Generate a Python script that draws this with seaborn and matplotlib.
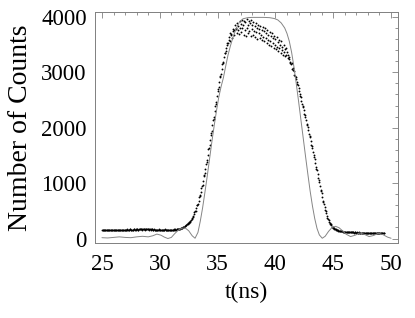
import numpy as np
import pandas as pd
import seaborn as sns
import matplotlib.pyplot as plt
from matplotlib.ticker import MultipleLocator

# measured counts, two overlapping traces sampled every 0.1 ns
t0_a = 25.0
counts_a = [
    148, 155, 150, 146, 153, 158, 150, 147, 152, 156, 149, 151, 157, 150, 145, 153, 159, 152, 148, 155,
    158, 152, 160, 155, 163, 157, 150, 162, 166, 158, 165, 160, 170, 163, 168, 175, 166, 172, 164, 170,
    168, 160, 172, 165, 158, 163, 155, 160, 152, 157, 162, 150, 155, 158, 152, 160, 155, 150, 157, 162,
    158, 152, 160, 165, 158, 170, 168, 175, 182, 190,
    200, 212, 228, 248, 262, 285, 305, 338, 372, 408,
    470, 500, 600, 625, 745, 780, 915, 970, 1120, 1180,
    1350, 1420, 1610, 1680, 1870, 1940, 2130, 2200, 2400, 2470,
    2660, 2730, 2910, 2970, 3140, 3190, 3350, 3380, 3520, 3530,
    3640, 3700, 3690, 3780, 3760, 3850, 3800, 3890, 3840, 3920,
    3870, 3950, 3860, 3930, 3900, 3960, 3850, 3920, 3880, 3940,
    3860, 3910, 3830, 3880, 3800, 3860, 3780, 3840, 3760, 3820,
    3740, 3800, 3700, 3760, 3680, 3730, 3650, 3700, 3620, 3660,
    3600, 3640, 3550, 3590, 3500, 3560, 3460, 3500, 3420, 3440,
    3370, 3320, 3280, 3190, 3160, 3070, 3030, 2930, 2880, 2780,
    2720, 2600, 2550, 2420, 2370, 2240, 2200, 2060, 2010, 1880,
    1830, 1690, 1640, 1500, 1440, 1290, 1230, 1090, 1020, 880,
    820, 680, 630, 510, 465, 370, 340, 275, 255, 215,
    195, 178, 165, 152, 145, 140, 135, 130, 128, 125,
    122, 120, 118, 115, 114, 112, 110, 112, 108, 110,
    108, 106, 110, 104, 106, 102, 105, 100, 103, 101,
    100, 98, 102, 97, 100, 96, 99, 95, 98, 94,
    96, 93, 95, 92, 94,
]

t0_b = 25.05
counts_b = [
    152, 146, 157, 151, 149, 160, 154, 145, 150, 158, 153, 147, 152, 160, 149, 155, 150, 146, 156, 151,
    155, 163, 150, 158, 165, 154, 160, 168, 157, 163, 172, 158, 166, 175, 160, 168, 171, 162, 176, 165,
    163, 170, 158, 166, 160, 154, 162, 149, 158, 163, 155, 160, 148, 156, 163, 151, 158, 153, 160, 155,
    162, 156, 168, 160, 172, 165, 178, 172, 186, 195,
    205, 220, 238, 255, 275, 295, 322, 355, 390, 435,
    490, 550, 610, 680, 760, 840, 940, 1040, 1150, 1260,
    1380, 1510, 1640, 1780, 1900, 2040, 2160, 2300, 2430, 2570,
    2690, 2820, 2930, 3060, 3160, 3270, 3350, 3440, 3500, 3580,
    3560, 3680, 3620, 3740, 3680, 3780, 3700, 3760, 3690, 3800,
    3720, 3790, 3680, 3760, 3650, 3800, 3700, 3740, 3660, 3780,
    3680, 3750, 3640, 3720, 3600, 3700, 3620, 3680, 3580, 3640,
    3560, 3620, 3530, 3590, 3500, 3560, 3470, 3530, 3440, 3500,
    3420, 3460, 3380, 3440, 3350, 3400, 3320, 3360, 3290, 3310,
    3250, 3240, 3170, 3150, 3060, 3040, 2950, 2920, 2820, 2770,
    2660, 2570, 2490, 2400, 2310, 2220, 2130, 2040, 1950, 1850,
    1760, 1670, 1570, 1470, 1370, 1260, 1160, 1050, 950, 850,
    750, 660, 570, 490, 415, 355, 305, 268, 235, 208,
    185, 172, 160, 150, 142, 137, 133, 129, 126, 124,
    121, 118, 116, 117, 113, 111, 114, 109, 111, 107,
    109, 105, 107, 103, 106, 101, 104, 102, 99, 103,
    99, 101, 96, 99, 95, 98, 97, 93, 96, 95,
    94, 96, 91, 93,
]

# model curve (gray line)
model_t = [25.0, 25.5, 26.0, 26.5, 27.0, 27.5, 28.0, 28.5, 29.0, 29.4, 29.75, 30.1, 30.4, 30.7,
           31.0, 31.3, 31.6, 31.9, 32.2, 32.5, 32.8, 33.05, 33.3, 33.5, 33.7, 33.9, 34.1, 34.3,
           34.5, 34.7, 34.9, 35.1, 35.3, 35.5, 35.7, 35.9, 36.1, 36.3, 36.5, 36.7, 36.9, 37.2,
           37.6, 38.0, 38.5, 39.0, 39.5, 39.9, 40.2, 40.5, 40.8, 41.0, 41.2, 41.4, 41.6, 41.8,
           42.0, 42.2, 42.4, 42.6, 42.8, 43.0, 43.2, 43.4, 43.6, 43.8, 44.05, 44.3, 44.6, 44.9,
           45.2, 45.5, 45.8, 46.1, 46.5, 46.9, 47.3, 47.7, 48.1, 48.5, 48.9, 49.3, 49.7, 50.0]
model_c = [15, 10, 20, 30, 20, 15, 30, 40, 30, 50, 80, 60, 25, 0,
           20, 90, 150, 185, 190, 140, 50, 5, 110, 310, 550, 830, 1120, 1430,
           1740, 2030, 2300, 2550, 2740, 2900, 3110, 3310, 3470, 3610, 3730, 3830, 3910, 3965,
           3985, 3990, 3990, 3990, 3985, 3970, 3945, 3890, 3800, 3700, 3560, 3360, 3100, 2800,
           2480, 2150, 1820, 1490, 1170, 860, 590, 360, 180, 65, 5, 40, 130, 200,
           220, 195, 140, 80, 35, 60, 100, 75, 35, 55, 95, 70, 25, 5]

ta = t0_a + 0.1 * np.arange(len(counts_a))
tb = t0_b + 0.1 * np.arange(len(counts_b))
dots = pd.DataFrame({'t': np.concatenate([ta, tb]), 'counts': counts_a + counts_b})
model = pd.DataFrame({'t': model_t, 'counts': model_c})

sns.set_style('white')
plt.rcParams['font.family'] = ['Liberation Serif', 'DejaVu Serif']
plt.rcParams['text.color'] = 'black'
plt.rcParams['axes.labelcolor'] = 'black'
plt.rcParams['xtick.labelcolor'] = 'black'
plt.rcParams['ytick.labelcolor'] = 'black'

fig = plt.figure(figsize=(4.15, 3.18), dpi=100)
ax = fig.add_axes([0.229, 0.236, 0.730, 0.725])

sns.lineplot(data=model, x='t', y='counts', color='#858585', linewidth=0.7,
             estimator=None, ax=ax)
sns.scatterplot(data=dots, x='t', y='counts', color='black', s=1.8,
                linewidth=0, ax=ax)

ax.set_xlim(24.4, 50.6)
ax.set_ylim(-80, 4080)
ax.set_xticks([25, 30, 35, 40, 45, 50])
ax.set_yticks([0, 1000, 2000, 3000, 4000])
ax.xaxis.set_minor_locator(MultipleLocator(1))
ax.yaxis.set_minor_locator(MultipleLocator(200))
ax.tick_params(which='both', direction='in', top=True, right=True,
               color='#808080', width=0.6, labelsize=16.5, labelcolor='black')
ax.tick_params(which='major', length=4)
ax.tick_params(which='minor', length=2)
ax.tick_params(axis='y', pad=6)
ax.tick_params(axis='x', pad=8)
for s in ax.spines.values():
    s.set_color('#808080')
    s.set_linewidth(0.7)

ax.set_xlabel('t(ns)', fontsize=17)
ax.set_ylabel('Number of Counts', fontsize=20)
ax.xaxis.set_label_coords(0.5, -0.17)
ax.yaxis.set_label_coords(-0.205, 0.5)

fig.savefig('out.png', dpi=100)
